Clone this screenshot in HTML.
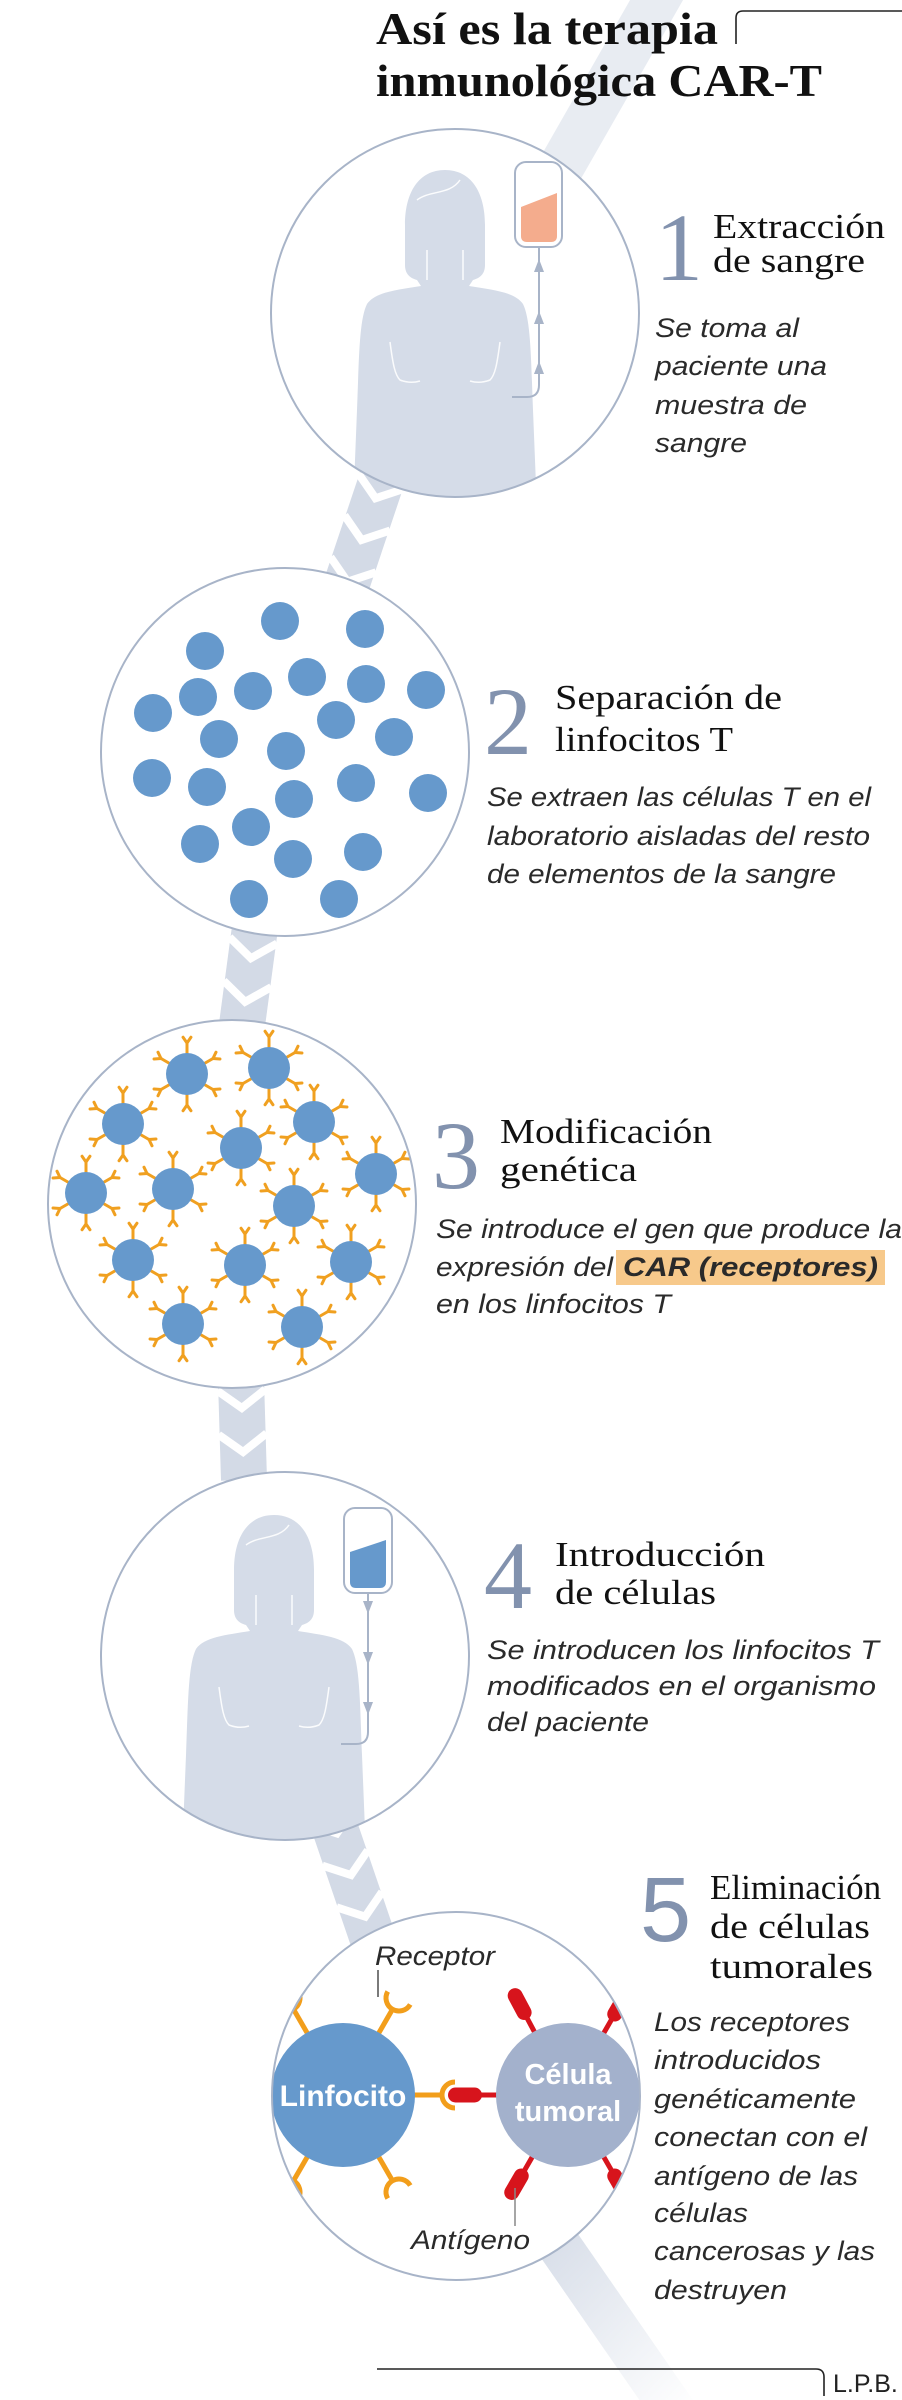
<!DOCTYPE html>
<html><head><meta charset="utf-8"><style>
html,body{margin:0;padding:0;background:#fff;}
svg{display:block;}
.h{font-family:"Liberation Serif",serif;font-size:35px;fill:#111;}
.n{font-family:"Liberation Serif",serif;font-size:96px;fill:#8292ae;}
.b{font-family:"Liberation Sans",sans-serif;font-style:italic;font-size:27px;fill:#2a2a2a;}
</style></head><body>
<svg id="s" width="902" height="2400" viewBox="0 0 902 2400" xmlns="http://www.w3.org/2000/svg">
<defs>
<linearGradient id="fade" gradientUnits="userSpaceOnUse" x1="500" y1="2250" x2="680" y2="2420">
<stop offset="0" stop-color="#d3dae6" stop-opacity="1"/><stop offset="1" stop-color="#d3dae6" stop-opacity="0"/></linearGradient>
<clipPath id="c1"><circle cx="455" cy="313" r="184"/></clipPath>
<clipPath id="c2"><circle cx="285" cy="752" r="184"/></clipPath>
<clipPath id="c3"><circle cx="232" cy="1204" r="184"/></clipPath>
<clipPath id="c4"><circle cx="285" cy="1656" r="184"/></clipPath>
<clipPath id="c5"><circle cx="456" cy="2096" r="184"/></clipPath>
<path id="person" d="M0,0 C26,0 40,22 40,55 L40,95 C40,104 35,108 28,110 L24,116 C48,120 70,122 78,134 C86,150 86,190 88,240 L92,340 L95,460 L-95,460 L-92,340 L-88,240 C-86,190 -86,150 -78,134 C-70,122 -48,120 -24,116 L-28,110 C-35,108 -40,104 -40,95 L-40,55 C-40,22 -26,0 0,0 Z"/>
</defs>
<g id="band"></g>
<path d="M500,2160 L680,2420" stroke="url(#fade)" stroke-width="44" fill="none"/>

<!-- title -->
<text x="376" y="44" font-family="Liberation Serif,serif" font-weight="bold" font-size="46" fill="#111" textLength="342" lengthAdjust="spacingAndGlyphs">Así es la terapia</text>
<text x="376" y="96" font-family="Liberation Serif,serif" font-weight="bold" font-size="46" fill="#111" textLength="446" lengthAdjust="spacingAndGlyphs">inmunológica CAR-T</text>
<path d="M736,44 L736,18 Q736,11 743,11 L902,11" stroke="#222" stroke-width="1.6" fill="none"/>

<!-- circles -->
<circle cx="455" cy="313" r="184" fill="#fff"/>
<circle cx="285" cy="752" r="184" fill="#fff"/>
<circle cx="232" cy="1204" r="184" fill="#fff"/>
<circle cx="285" cy="1656" r="184" fill="#fff"/>
<circle cx="456" cy="2096" r="184" fill="#fff"/>

<!-- step 1 -->
<g clip-path="url(#c1)">
<g transform="translate(445,170)">
<use href="#person" fill="#d5dce8"/>
<g stroke="#fff" stroke-width="1.5" fill="none" opacity="0.9">
<path d="M-55,172 C-52,195 -50,205 -45,210 Q-35,214 -25,211"/><path d="M55,172 C52,195 50,205 45,210 Q35,214 25,211"/>
<path d="M-18,80 L-18,110 M18,80 L18,110"/><path d="M-28,30 C-15,20 5,25 15,10"/>
</g></g>
</g>
<rect x="515" y="162" width="47" height="85" rx="11" fill="#fff" stroke="#a8b4c8" stroke-width="2"/>
<path d="M521,207 L557,193 L557,236 Q557,242 551,242 L527,242 Q521,242 521,236 Z" fill="#f4ac8d"/>
<path d="M539,247 L539,385 Q539,397 527,397 L512,397" stroke="#a8b4c8" stroke-width="2" fill="none"/>
<g fill="#a8b4c8"><path d="M539,259 L534,272 L544,272Z"/><path d="M539,311 L534,324 L544,324Z"/><path d="M539,361 L534,374 L544,374Z"/></g>
<circle cx="455" cy="313" r="184" fill="none" stroke="#a8b4c8" stroke-width="2"/>
<text x="655" y="280" class="n">1</text>
<text x="713" y="238" class="h" textLength="172" lengthAdjust="spacingAndGlyphs">Extracción</text>
<text x="713" y="272" class="h" textLength="152" lengthAdjust="spacingAndGlyphs">de sangre</text>
<text x="655" y="337" class="b" textLength="144" lengthAdjust="spacingAndGlyphs">Se toma al</text>
<text x="655" y="375" class="b" textLength="172" lengthAdjust="spacingAndGlyphs">paciente una</text>
<text x="655" y="414" class="b" textLength="152" lengthAdjust="spacingAndGlyphs">muestra de</text>
<text x="655" y="452" class="b" textLength="92" lengthAdjust="spacingAndGlyphs">sangre</text>

<!-- step 2 -->
<g id="cells2" fill="#6699cc"></g>
<circle cx="285" cy="752" r="184" fill="none" stroke="#a8b4c8" stroke-width="2"/>
<text x="484" y="754" class="n">2</text>
<text x="555" y="709" class="h" textLength="227" lengthAdjust="spacingAndGlyphs">Separación de</text>
<text x="555" y="751" class="h" textLength="178" lengthAdjust="spacingAndGlyphs">linfocitos T</text>
<text x="487" y="806" class="b" textLength="384" lengthAdjust="spacingAndGlyphs">Se extraen las células T en el</text>
<text x="487" y="845" class="b" textLength="383" lengthAdjust="spacingAndGlyphs">laboratorio aisladas del resto</text>
<text x="487" y="883" class="b" textLength="349" lengthAdjust="spacingAndGlyphs">de elementos de la sangre</text>

<!-- step 3 -->
<g id="cells3" clip-path="url(#c3)"></g>
<circle cx="232" cy="1204" r="184" fill="none" stroke="#a8b4c8" stroke-width="2"/>
<text x="432" y="1188" class="n">3</text>
<text x="500" y="1143" class="h" textLength="212" lengthAdjust="spacingAndGlyphs">Modificación</text>
<text x="500" y="1181" class="h" textLength="137" lengthAdjust="spacingAndGlyphs">genética</text>
<rect x="616" y="1250" width="269" height="35" fill="#f7c98b"/>
<text x="436" y="1238" class="b" textLength="466" lengthAdjust="spacingAndGlyphs">Se introduce el gen que produce la</text>
<text x="436" y="1276" class="b" textLength="177" lengthAdjust="spacingAndGlyphs">expresión del</text>
<text x="623" y="1276" class="b" font-weight="bold" fill="#111" textLength="255" lengthAdjust="spacingAndGlyphs">CAR (receptores)</text>
<text x="436" y="1313" class="b" textLength="235" lengthAdjust="spacingAndGlyphs">en los linfocitos T</text>

<!-- step 4 -->
<g clip-path="url(#c4)">
<g transform="translate(274,1515)">
<use href="#person" fill="#d5dce8"/>
<g stroke="#fff" stroke-width="1.5" fill="none" opacity="0.9">
<path d="M-55,172 C-52,195 -50,205 -45,210 Q-35,214 -25,211"/><path d="M55,172 C52,195 50,205 45,210 Q35,214 25,211"/>
<path d="M-18,80 L-18,110 M18,80 L18,110"/><path d="M-28,30 C-15,20 5,25 15,10"/>
</g></g>
</g>
<rect x="344" y="1508" width="48" height="85" rx="11" fill="#fff" stroke="#a8b4c8" stroke-width="2"/>
<path d="M350,1552 L386,1540 L386,1582 Q386,1588 380,1588 L356,1588 Q350,1588 350,1582 Z" fill="#6699cc"/>
<path d="M368,1593 L368,1732 Q368,1744 356,1744 L341,1744" stroke="#a8b4c8" stroke-width="2" fill="none"/>
<g fill="#a8b4c8"><path d="M368,1614 L363,1601 L373,1601Z"/><path d="M368,1665 L363,1652 L373,1652Z"/><path d="M368,1715 L363,1702 L373,1702Z"/></g>
<circle cx="285" cy="1656" r="184" fill="none" stroke="#a8b4c8" stroke-width="2"/>
<text x="484" y="1608" class="n">4</text>
<text x="555" y="1566" class="h" textLength="210" lengthAdjust="spacingAndGlyphs">Introducción</text>
<text x="555" y="1604" class="h" textLength="161" lengthAdjust="spacingAndGlyphs">de células</text>
<text x="487" y="1659" class="b" textLength="392" lengthAdjust="spacingAndGlyphs">Se introducen los linfocitos T</text>
<text x="487" y="1695" class="b" textLength="389" lengthAdjust="spacingAndGlyphs">modificados en el organismo</text>
<text x="487" y="1731" class="b" textLength="162" lengthAdjust="spacingAndGlyphs">del paciente</text>

<!-- step 5 -->
<g clip-path="url(#c5)">
<g stroke="#f29e1b" stroke-width="5" fill="none">
<g id="rec"><path d="M70,0 L99,0"/><path d="M112,-13 A13,13 0 0 0 112,13"/></g>
</g>
<g fill="#d7141c"><g id="ant"><rect x="-90" y="-2.5" width="20" height="5"/><rect x="-120" y="-7.5" width="34" height="15" rx="7.5"/></g></g>
<circle cx="343" cy="2095" r="72" fill="#6699cc"/>
<circle cx="568" cy="2095" r="72" fill="#a3b1cc"/>
</g>
<text x="343" y="2106" text-anchor="middle" font-family="Liberation Sans,sans-serif" font-weight="bold" font-size="30" fill="#fff">Linfocito</text>
<text x="568" y="2084" text-anchor="middle" font-family="Liberation Sans,sans-serif" font-weight="bold" font-size="29" fill="#fff">Célula</text>
<text x="568" y="2121" text-anchor="middle" font-family="Liberation Sans,sans-serif" font-weight="bold" font-size="29" fill="#fff">tumoral</text>
<path d="M378,1970 L378,1997" stroke="#222" stroke-width="1.2"/>
<path d="M515,2188 L515,2226" stroke="#888" stroke-width="1.5"/>
<text x="375" y="1965" class="b" font-size="25" textLength="120" lengthAdjust="spacingAndGlyphs">Receptor</text>
<text x="411" y="2249" class="b" font-size="25" textLength="119" lengthAdjust="spacingAndGlyphs">Antígeno</text>
<circle cx="456" cy="2096" r="184" fill="none" stroke="#a8b4c8" stroke-width="2"/>
<text x="640" y="1941" font-family="Liberation Sans,sans-serif" font-size="92" fill="#8292ae">5</text>
<text x="710" y="1899" class="h">Eliminación</text>
<text x="710" y="1938" class="h" textLength="160" lengthAdjust="spacingAndGlyphs">de células</text>
<text x="710" y="1978" class="h" textLength="163" lengthAdjust="spacingAndGlyphs">tumorales</text>
<text x="654" y="2031" class="b" textLength="196" lengthAdjust="spacingAndGlyphs">Los receptores</text>
<text x="654" y="2069" class="b" textLength="167" lengthAdjust="spacingAndGlyphs">introducidos</text>
<text x="654" y="2108" class="b" textLength="202" lengthAdjust="spacingAndGlyphs">genéticamente</text>
<text x="654" y="2146" class="b" textLength="213" lengthAdjust="spacingAndGlyphs">conectan con el</text>
<text x="654" y="2185" class="b" textLength="204" lengthAdjust="spacingAndGlyphs">antígeno de las</text>
<text x="654" y="2222" class="b" textLength="94" lengthAdjust="spacingAndGlyphs">células</text>
<text x="654" y="2260" class="b" textLength="221" lengthAdjust="spacingAndGlyphs">cancerosas y las</text>
<text x="654" y="2299" class="b" textLength="133" lengthAdjust="spacingAndGlyphs">destruyen</text>

<path d="M377,2369 L816,2369 Q824,2369 824,2377 L824,2396" stroke="#222" stroke-width="1.6" fill="none"/>
<text x="833" y="2392" font-family="Liberation Sans,sans-serif" font-size="25" fill="#222">L.P.B.</text>
</svg>
<script>
(function(){
var NS="http://www.w3.org/2000/svg";
function el(t,a,p){var e=document.createElementNS(NS,t);for(var k in a)e.setAttribute(k,a[k]);p.appendChild(e);return e;}
var band=document.getElementById('band');
var segs=[[668,-20,548,190,0,'#e8ecf2'],[385,470,338,610,3,'#d3dae6'],[256,920,240,1040,2,'#d3dae6'],[241,1380,244,1480,2,'#d3dae6'],[322,1790,380,1960,3,'#d3dae6']];
segs.forEach(function(s){
 el('line',{x1:s[0],y1:s[1],x2:s[2],y2:s[3],stroke:s[5],'stroke-width':46},band);
 var dx=s[2]-s[0],dy=s[3]-s[1],L=Math.hypot(dx,dy),ux=dx/L,uy=dy/L,nx=-uy,ny=ux;
 var n=s[4];
 for(var i=0;i<n;i++){
  var t=L/2+(i-(n-1)/2)*44;
  var px=s[0]+ux*t,py=s[1]+uy*t;
  var a=[px-ux*18+nx*24,py-uy*18+ny*24],b=[px,py],c=[px-ux*18-nx*24,py-uy*18-ny*24];
  el('polyline',{points:a.join(',')+' '+b.join(',')+' '+c.join(','),stroke:'#fff','stroke-width':8,fill:'none'},band);
 }
});
var c2=[[280,621],[365,629],[205,651],[198,697],[253,691],[307,677],[366,684],[426,690],[153,713],[336,720],[219,739],[394,737],[286,751],[152,778],[207,787],[356,783],[428,793],[294,799],[251,827],[200,844],[293,859],[363,852],[249,899],[339,899]];
var g2=document.getElementById('cells2');
c2.forEach(function(p){el('circle',{cx:p[0],cy:p[1],r:19},g2);});
var c3=[[187,1074],[269,1068],[123,1124],[314,1122],[241,1148],[86,1193],[173,1189],[376,1174],[294,1206],[133,1260],[245,1265],[351,1262],[183,1324],[302,1327]];
var g3=document.getElementById('cells3');
c3.forEach(function(p){
 var g=el('g',{stroke:'#f0a020','stroke-width':3,fill:'none','stroke-linecap':'round'},g3);
 [-90,-30,30,90,150,210].forEach(function(ang){
  var r=ang*Math.PI/180,ux=Math.cos(r),uy=Math.sin(r);
  var x1=p[0]+ux*20,y1=p[1]+uy*21,x2=p[0]+ux*30,y2=p[1]+uy*31;
  el('line',{x1:x1,y1:y1,x2:x2,y2:y2},g);
  [0.6,-0.6].forEach(function(d){var r2=r+d;el('line',{x1:x2,y1:y2,x2:x2+Math.cos(r2)*7,y2:y2+Math.sin(r2)*7},g);});
 });
 el('ellipse',{cx:p[0],cy:p[1],rx:21,ry:21,fill:'#6699cc',stroke:'none'},g3);
});
var rec=document.getElementById('rec');rec.setAttribute('transform','translate(343,2095)');
[-60,60,-120,120].forEach(function(a){var c=rec.cloneNode(true);c.setAttribute('transform','translate(343,2095) rotate('+a+')');rec.parentNode.appendChild(c);});
var ant=document.getElementById('ant');ant.setAttribute('transform','translate(568,2095)');
[62,-60,120,-120].forEach(function(a){var c=ant.cloneNode(true);c.setAttribute('transform','translate(568,2095) rotate('+a+')');ant.parentNode.appendChild(c);});
})();
</script>
</body></html>
